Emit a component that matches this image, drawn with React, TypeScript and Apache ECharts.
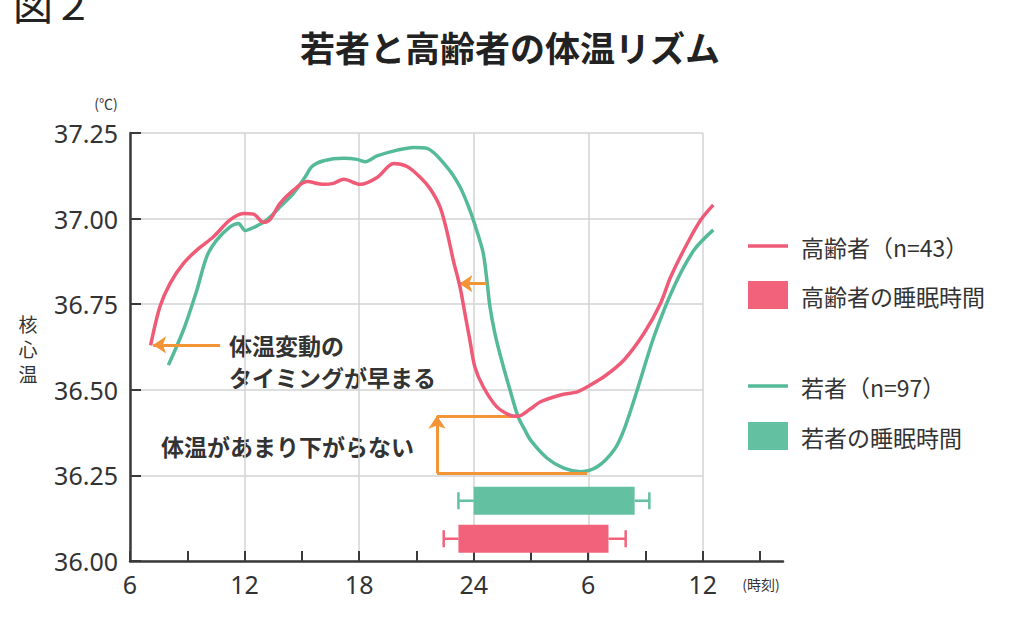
import React, { useEffect, useRef } from "react";
import * as echarts from "echarts";

// ---- data ----
const elderlyHours = [7.08, 7.57, 8.1, 8.8, 9.5, 10.37, 11.24, 11.94, 12.47, 13.0, 13.34, 13.87, 14.56, 15.27, 16.14, 16.66, 17.19, 18.06, 18.94, 19.81, 20.51, 21.21, 21.71, 22.23, 22.58, 22.93, 23.28, 23.54, 23.8, 24.06, 24.5, 25.2, 25.9, 26.33, 26.94, 27.5, 28.55, 29.42, 29.95, 30.82, 31.87, 32.92, 33.79, 34.32, 35.19, 35.89, 36.55];
const elderlyTemps = [36.63, 36.743, 36.811, 36.869, 36.908, 36.947, 36.996, 37.015, 37.013, 36.989, 36.998, 37.045, 37.083, 37.108, 37.1, 37.103, 37.115, 37.1, 37.12, 37.161, 37.152, 37.12, 37.088, 37.035, 36.967, 36.879, 36.801, 36.723, 36.645, 36.567, 36.509, 36.451, 36.426, 36.423, 36.443, 36.465, 36.485, 36.494, 36.509, 36.538, 36.587, 36.665, 36.753, 36.83, 36.928, 36.996, 37.04];

const youngHours = [8.01, 8.8, 9.5, 10.02, 10.54, 11.24, 11.68, 12.03, 12.55, 13.17, 13.87, 14.56, 15.18, 15.53, 16.14, 17.19, 17.89, 18.33, 18.94, 19.99, 20.86, 21.56, 22.58, 23.28, 23.8, 24.15, 24.5, 24.71, 24.85, 25.11, 25.46, 25.9, 26.33, 26.68, 26.98, 27.85, 28.72, 29.6, 30.47, 31.35, 31.87, 32.57, 33.44, 34.49, 35.54, 36.55];
const youngTemps = [36.572, 36.675, 36.791, 36.889, 36.937, 36.976, 36.986, 36.965, 36.976, 36.996, 37.035, 37.074, 37.122, 37.152, 37.169, 37.176, 37.173, 37.166, 37.183, 37.2, 37.208, 37.205, 37.152, 37.093, 37.025, 36.967, 36.899, 36.811, 36.743, 36.665, 36.587, 36.5, 36.421, 36.383, 36.353, 36.3, 36.271, 36.261, 36.275, 36.324, 36.383, 36.5, 36.655, 36.801, 36.908, 36.967];

// sleep time bars: [elderly, young]
const sleepNames = ["高齢者の睡眠時間", "若者の睡眠時間"];
const sleepStart = [23.2, 24.0];
const sleepEnd = [31.06, 32.43];
const sleepErrLow = [22.43, 23.2];
const sleepErrHigh = [31.96, 33.2];
const sleepLevel = [36.065, 36.176];

const xTickValues = [6, 9, 12, 15, 18, 21, 24, 27, 30, 33, 36, 39];
const xLabelValues = [6, 12, 18, 24, 30, 36];

// annotation geometry in data units (hours, °C)
const timingArrow = [[10.72, 36.631], [7.21, 36.631]];
const shiftArrow = [[24.67, 36.81], [23.25, 36.81]];
const bracketTop = [[26.33, 36.424], [22.08, 36.424]];
const bracketVert = [[22.08, 36.256], [22.08, 36.424]];
const bracketBottom = [[22.08, 36.256], [29.95, 36.256]];

const RED = "#ef5a77";
const RED_BAR = "#f2637b";
const GREEN = "#54ba97";
const GREEN_BAR = "#63c1a2";
const ORANGE = "#f39436";
const TXT = "#333333";
const NUM_FONT = '"Noto Sans", "Noto Sans CJK JP", sans-serif';
const JP_FONT = '"Noto Sans CJK JP", "Noto Sans", sans-serif';

export default function App() {
  const ref = useRef<HTMLDivElement>(null);

  useEffect(() => {
    if (!ref.current) return;
    const chart = echarts.init(ref.current, undefined, { renderer: "svg" });

    const elderly = elderlyHours.map((h, i) => [h, elderlyTemps[i]]);
    const young = youngHours.map((h, i) => [h, youngTemps[i]]);
    const sleepColors = [RED_BAR, GREEN_BAR];
    const sleepData = sleepNames.map((n, i) => ({
      name: n,
      value: [sleepStart[i], sleepEnd[i], sleepErrLow[i], sleepErrHigh[i], sleepLevel[i]],
      itemStyle: { color: sleepColors[i] },
    }));

    const seg = (pts: number[][], arrow: boolean) => [
      { coord: pts[0], symbol: "none" },
      { coord: pts[1], symbol: arrow ? "arrow" : "none", symbolSize: [13, 13] },
    ];

    const legendItems = [
      { kind: "line", color: RED, y: 246, label: "高齢者（n=43）" },
      { kind: "rect", color: RED_BAR, y: 295, label: "高齢者の睡眠時間" },
      { kind: "line", color: GREEN, y: 386, label: "若者（n=97）" },
      { kind: "rect", color: GREEN_BAR, y: 436, label: "若者の睡眠時間" },
    ];
    const legendGraphics: any[] = [];
    legendItems.forEach((it) => {
      if (it.kind === "line") {
        legendGraphics.push({
          type: "line",
          shape: { x1: 748, y1: it.y, x2: 788, y2: it.y },
          style: { stroke: it.color, lineWidth: 3.5 },
        });
      } else {
        legendGraphics.push({
          type: "rect",
          shape: { x: 748, y: it.y - 14, width: 40, height: 28 },
          style: { fill: it.color },
        });
      }
      legendGraphics.push({
        type: "text",
        x: 801,
        y: it.y + 1,
        style: {
          text: it.label,
          fill: TXT,
          font: `23px ${JP_FONT}`,
          textVerticalAlign: "middle",
          textAlign: "left",
        },
      });
    });

    const yNameChars = ["核", "心", "温"].map((c, i) => ({
      type: "text",
      x: 28,
      y: 323 + i * 25,
      style: { text: c, fill: TXT, font: `19px ${JP_FONT}`, textAlign: "center", textVerticalAlign: "middle" },
    }));

    const option: any = {
      animation: false,
      backgroundColor: "#ffffff",
      grid: [
        { left: 130, top: 133, width: 653, height: 428 },
        { left: 130, top: 133, width: 573, height: 428 },
      ],
      xAxis: [
        {
          type: "value",
          gridIndex: 0,
          min: 6,
          max: 40.2,
          axisLine: { show: true, lineStyle: { color: "#3a3a3a", width: 2.5 } },
          axisTick: {
            show: true,
            inside: true,
            length: 10,
            customValues: xTickValues,
            lineStyle: { color: "#3a3a3a", width: 2 },
          },
          axisLabel: {
            customValues: xLabelValues,
            formatter: (v: number) => String(v > 24 ? v - 24 : v),
            color: TXT,
            fontSize: 25,
            fontFamily: NUM_FONT,
            margin: 10,
          },
          splitLine: { show: false },
        },
        {
          type: "value",
          gridIndex: 1,
          min: 6,
          max: 36,
          interval: 6,
          axisLine: { show: false },
          axisTick: { show: false },
          axisLabel: { show: false },
          splitLine: { show: true, lineStyle: { color: "#d3d3d3", width: 1.5 } },
        },
      ],
      yAxis: [
        {
          type: "value",
          gridIndex: 0,
          min: 36,
          max: 37.25,
          interval: 0.25,
          axisLine: { show: true, lineStyle: { color: "#3a3a3a", width: 2.5 } },
          axisTick: { show: true, inside: true, length: 11, lineStyle: { color: "#3a3a3a", width: 2 } },
          axisLabel: {
            formatter: (v: number) => v.toFixed(2),
            color: TXT,
            fontSize: 25,
            fontFamily: NUM_FONT,
            margin: 12,
          },
          splitLine: { show: false },
        },
        {
          type: "value",
          gridIndex: 1,
          min: 36,
          max: 37.25,
          interval: 0.25,
          axisLine: { show: false },
          axisTick: { show: false },
          axisLabel: { show: false },
          splitLine: { show: true, lineStyle: { color: "#d3d3d3", width: 1.5 } },
        },
      ],
      series: [
        {
          type: "custom",
          name: "sleep",
          xAxisIndex: 0,
          yAxisIndex: 0,
          z: 3,
          data: sleepData,
          renderItem: (params: any, api: any) => {
            const y = api.value(4);
            const s = api.coord([api.value(0), y]);
            const e = api.coord([api.value(1), y]);
            const lo = api.coord([api.value(2), y]);
            const hi = api.coord([api.value(3), y]);
            const color = api.visual("color");
            const h = 28;
            const cap = 8.5;
            const ls = { stroke: color, lineWidth: 2.5 };
            return {
              type: "group",
              children: [
                { type: "line", shape: { x1: lo[0], y1: lo[1], x2: s[0], y2: s[1] }, style: ls },
                { type: "line", shape: { x1: lo[0], y1: lo[1] - cap, x2: lo[0], y2: lo[1] + cap }, style: ls },
                { type: "line", shape: { x1: e[0], y1: e[1], x2: hi[0], y2: hi[1] }, style: ls },
                { type: "line", shape: { x1: hi[0], y1: hi[1] - cap, x2: hi[0], y2: hi[1] + cap }, style: ls },
                { type: "rect", shape: { x: s[0], y: s[1] - h / 2, width: e[0] - s[0], height: h }, style: { fill: color } },
              ],
            };
          },
        },
        {
          type: "line",
          name: "高齢者（n=43）",
          xAxisIndex: 0,
          yAxisIndex: 0,
          data: elderly,
          smooth: 0.3,
          symbol: "none",
          z: 5,
          lineStyle: { color: RED, width: 3.5 },
          itemStyle: { color: RED },
        },
        {
          type: "line",
          name: "若者（n=97）",
          xAxisIndex: 0,
          yAxisIndex: 0,
          data: young,
          smooth: 0.3,
          symbol: "none",
          z: 4,
          lineStyle: { color: GREEN, width: 3.5 },
          itemStyle: { color: GREEN },
        },
        {
          type: "line",
          name: "annotations",
          xAxisIndex: 0,
          yAxisIndex: 0,
          data: [],
          symbol: "none",
          z: 6,
          markLine: {
            silent: true,
            animation: false,
            symbol: ["none", "none"],
            label: { show: false },
            emphasis: { disabled: true },
            lineStyle: { color: ORANGE, width: 3, type: "solid" },
            data: [
              seg(timingArrow, true),
              seg(shiftArrow, true),
              seg(bracketTop, false),
              seg(bracketVert, true),
              seg(bracketBottom, false),
            ],
          },
        },
      ],
      graphic: [
        {
          type: "text",
          x: 13,
          y: 3,
          style: { text: "図２", fill: "#222", font: `40px ${JP_FONT}`, textVerticalAlign: "middle" },
        },
        {
          type: "text",
          x: 510,
          y: 46,
          style: {
            text: "若者と高齢者の体温リズム",
            fill: "#222",
            font: `bold 35px ${JP_FONT}`,
            textAlign: "center",
            textVerticalAlign: "middle",
          },
        },
        {
          type: "text",
          x: 106,
          y: 103,
          style: { text: "(℃)", fill: TXT, font: `14px ${JP_FONT}`, textAlign: "center", textVerticalAlign: "middle" },
        },
        ...yNameChars,
        {
          type: "text",
          x: 761,
          y: 584,
          style: { text: "(時刻)", fill: TXT, font: `14px ${JP_FONT}`, textAlign: "center", textVerticalAlign: "middle" },
        },
        {
          type: "text",
          x: 229,
          y: 345,
          style: { text: "体温変動の", fill: TXT, font: `bold 23px ${JP_FONT}`, textVerticalAlign: "middle" },
        },
        {
          type: "text",
          x: 229,
          y: 377,
          style: { text: "タイミングが早まる", fill: TXT, font: `bold 23px ${JP_FONT}`, textVerticalAlign: "middle" },
        },
        {
          type: "text",
          x: 161,
          y: 446,
          style: { text: "体温があまり下がらない", fill: TXT, font: `bold 23px ${JP_FONT}`, textVerticalAlign: "middle" },
        },
        ...legendGraphics,
      ],
    };

    chart.setOption(option);
    return () => chart.dispose();
  }, []);

  return (
    <div
      ref={ref}
      style={{ position: "fixed", left: 0, top: 0, width: 1024, height: 627, background: "#fff" }}
    />
  );
}
